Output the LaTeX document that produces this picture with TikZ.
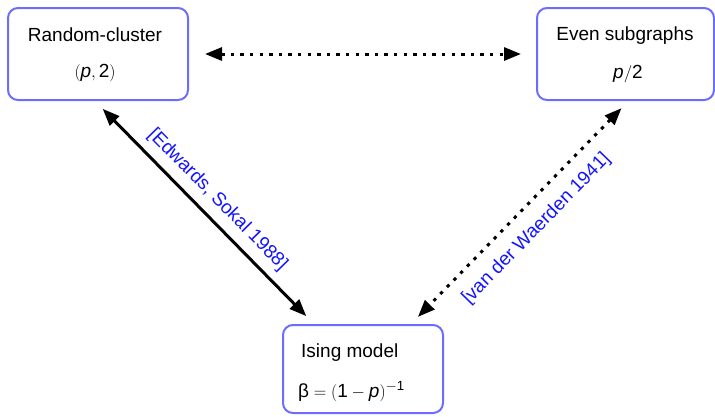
\documentclass[tikz,border=0pt]{standalone}
\usepackage{amsmath}
\usepackage[no-math]{fontspec}
\setmainfont{Liberation Sans}
\usetikzlibrary{arrows.meta,calc}
\definecolor{boxblue}{RGB}{108,108,255}
\definecolor{refblue}{RGB}{20,20,255}
\begin{document}
\begin{tikzpicture}[x=1pt,y=-1pt,
  modelbox/.style={draw=boxblue, line width=2pt, rounded corners=10pt, inner sep=0pt},
  boxtext/.style={font=\fontsize{19}{23}\selectfont, inner sep=0pt, anchor=base},
  tipped/.style={line width=3pt,
    {Triangle[length=17pt,width=13pt]}-{Triangle[length=17pt,width=13pt]}},
  dotted line/.style={tipped, dash pattern=on 3.3pt off 6.3pt},
  reflabel/.style={sloped, text=refblue, font=\fontsize{19}{23}\selectfont, inner sep=0pt}]
  \useasboundingbox (0,0) rectangle (715,416);

  % the three models
  \node[modelbox, minimum width=180pt, minimum height=92pt] (rc) at (98,54) {};
  \node[modelbox, minimum width=177pt, minimum height=92pt] (es) at (625.5,54) {};
  \node[modelbox, minimum width=160pt, minimum height=88pt] (is) at (363,369) {};

  % their names and parameters
  \node[boxtext] (rcname) at (95,41) {Random-cluster};
  \node[boxtext] (rcpar)  at (95,77) {$(\textit{p},\text{2})$};
  \node[boxtext] (esname) at (625,40) {Even subgraphs};
  \node[boxtext] (espar)  at (628,78) {$\textit{p}/\text{2}$};
  \node[boxtext, anchor=base west] (isname) at (301,357) {Ising model};
  \node[boxtext, anchor=base west] (ispar)  at (298,397)
    {$\text{β} = (\text{1} - \textit{p})^{-\text{1}}$};

  % couplings between them
  \draw[dotted line, shorten <=16pt, shorten >=15pt] (rc.east) -- (es.west);
  \draw[tipped, shorten <=11pt, shorten >=11pt]
    ($(rc.south)+(-3,0)$) -- ($(is.north west)+(32,0)$)
    node[reflabel, midway, above=8pt] {[Edwards, Sokal 1988]};
  \draw[dotted line, shorten <=10pt, shorten >=10pt]
    ($(es.south)+(3,0)$) -- ($(is.north east)+(-33,0)$)
    node[reflabel, midway, below=13pt] {[van der Waerden 1941]};
\end{tikzpicture}
\end{document}
